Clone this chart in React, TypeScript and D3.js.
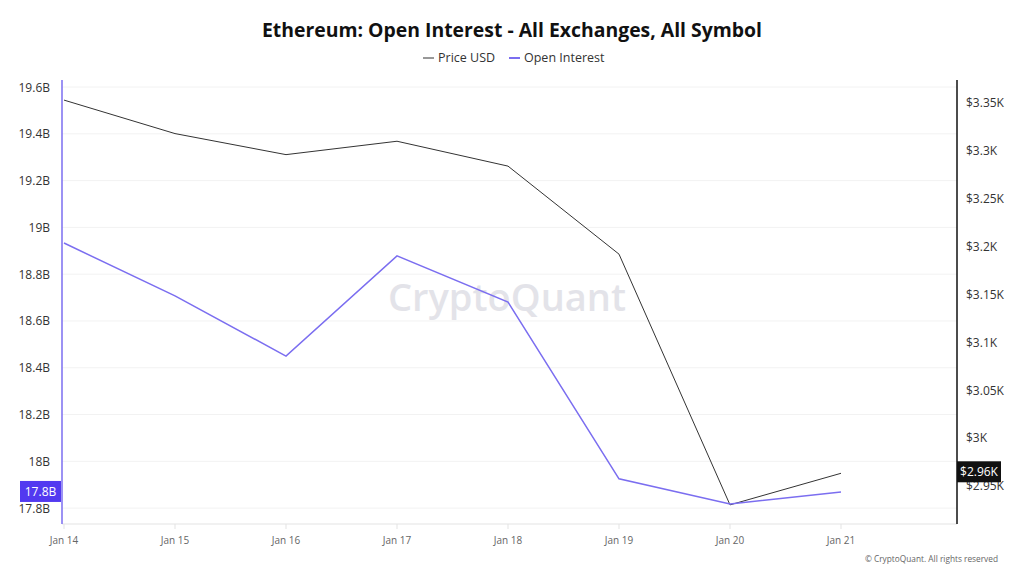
import * as d3 from "d3";

const dates = ["2025-01-14", "2025-01-15", "2025-01-16", "2025-01-17", "2025-01-18", "2025-01-19", "2025-01-20", "2025-01-21"];
const priceUsd = [3353, 3318, 3296, 3310, 3284, 3192, 2930, 2963];
const openInterest = [18.933e9, 18.707e9, 18.45e9, 18.878e9, 18.681e9, 17.925e9, 17.818e9, 17.869e9];
const xTickLabels = ["Jan 14", "Jan 15", "Jan 16", "Jan 17", "Jan 18", "Jan 19", "Jan 20", "Jan 21"];

const W = 1024;
const H = 576;
const plot = { left: 62, right: 957, top: 80, bottom: 524 };
const PURPLE = "#7b6ef0";
const FONT = "'Open Sans', 'Noto Sans', sans-serif";

const parse = d3.timeParse("%Y-%m-%d");

function fmtB(v: number) {
  return `${Math.floor(Math.round(v / 1e7) / 10) / 10}B`;
}
function fmtK(v: number) {
  return `$${Math.floor(Math.round(v) / 10) / 100}K`;
}

export default function App() {
  const days = dates.map((d) => parse(d) as Date);
  const x = d3.scaleTime().domain([days[0], days[days.length - 1]]).range([64, 841]);
  const yL = d3.scaleLinear().domain([17.732e9, 19.63e9]).range([plot.bottom, plot.top]);
  const yR = d3.scaleLinear().domain([2910, 3374]).range([plot.bottom, plot.top]);

  const leftTicks = yL.ticks(10);
  const rightTicks = yR.ticks(10);

  const priceLine = d3
    .line<number>()
    .x((_, i) => x(days[i]))
    .y((d) => yR(d));
  const oiLine = d3
    .line<number>()
    .x((_, i) => x(days[i]))
    .y((d) => yL(d));

  const lastOi = openInterest[openInterest.length - 1];
  const lastPrice = priceUsd[priceUsd.length - 1];

  return (
    <svg
      width={W}
      height={H}
      style={{ position: "fixed", left: 0, top: 0, background: "#fff", fontFamily: FONT }}
    >
      <text x={W / 2} y={37} textAnchor="middle" fontSize={19.4} fontWeight={700} fill="#111">
        Ethereum: Open Interest - All Exchanges, All Symbol
      </text>

      {/* legend */}
      <g fontSize={12.5} fill="#333">
        <line x1={423} x2={434} y1={58} y2={58} stroke="#333" strokeWidth={1} />
        <text x={438} y={62}>Price USD</text>
        <line x1={509} x2={520} y1={58} y2={58} stroke={PURPLE} strokeWidth={2} />
        <text x={524} y={62}>Open Interest</text>
      </g>

      {/* grid */}
      {leftTicks.map((t) => (
        <line key={t} x1={plot.left} x2={plot.right} y1={yL(t)} y2={yL(t)} stroke="#f2f2f2" />
      ))}

      {/* watermark */}
      <text x={507} y={311} textAnchor="middle" fontSize={38} fill="#d8d8e0" opacity={0.7} fontWeight={600}>
        CryptoQuant
      </text>

      {/* x axis */}
      <line x1={plot.left} x2={plot.right} y1={plot.bottom} y2={plot.bottom} stroke="#e3e3e3" />
      {days.map((d, i) => (
        <g key={i}>
          <line x1={x(d)} x2={x(d)} y1={plot.bottom} y2={plot.bottom + 5} stroke="#e3e3e3" />
          <text x={x(d)} y={544} textAnchor="middle" fontSize={10} fill="#666">
            {xTickLabels[i]}
          </text>
        </g>
      ))}

      {/* left axis */}
      <line x1={plot.left} x2={plot.left} y1={plot.top} y2={plot.bottom} stroke={PURPLE} strokeWidth={1.5} />
      {leftTicks.map((t) => (
        <text key={t} x={50} y={yL(t) + 4.5} textAnchor="end" fontSize={12} fill="#333">
          {fmtB(t)}
        </text>
      ))}

      {/* right axis */}
      <line x1={plot.right} x2={plot.right} y1={plot.top} y2={plot.bottom} stroke="#111" strokeWidth={1.5} />
      {rightTicks.map((t) => (
        <text key={t} x={966} y={yR(t) + 4.5} fontSize={12} fill="#333">
          {fmtK(t)}
        </text>
      ))}

      {/* series */}
      <path d={priceLine(priceUsd) ?? ""} fill="none" stroke="#333" strokeWidth={1} />
      <path d={oiLine(openInterest) ?? ""} fill="none" stroke={PURPLE} strokeWidth={1.5} />

      {/* current value badges */}
      <rect x={20} y={yL(lastOi) - 11} width={41} height={21} fill="#5239f0" />
      <text x={40.5} y={yL(lastOi) + 4} textAnchor="middle" fontSize={12} fill="#fff">
        {fmtB(lastOi)}
      </text>
      <rect x={957} y={yR(lastPrice) - 12} width={44} height={21} fill="#111" />
      <text x={979} y={yR(lastPrice) + 3} textAnchor="middle" fontSize={12} fill="#fff">
        {fmtK(lastPrice)}
      </text>

      <text x={998} y={562} textAnchor="end" fontSize={8.3} fill="#666">
        © CryptoQuant. All rights reserved
      </text>
    </svg>
  );
}
